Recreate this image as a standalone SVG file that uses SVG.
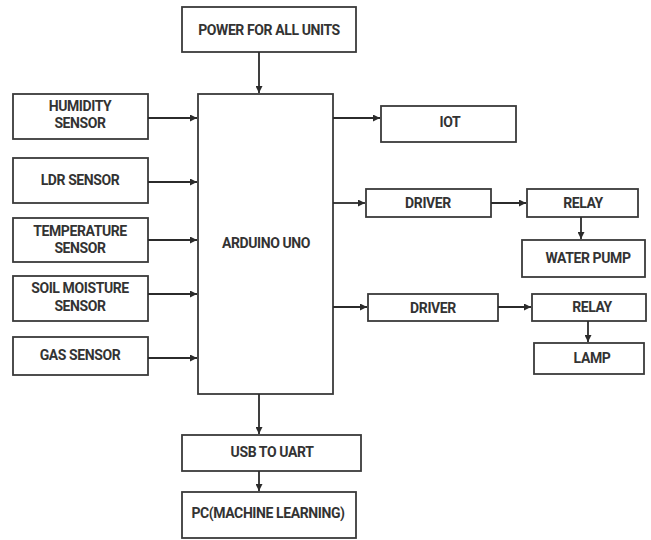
<svg xmlns="http://www.w3.org/2000/svg" width="651" height="540" viewBox="0 0 651 540">
<defs>
<marker id="ah" viewBox="0 0 10 10" refX="10" refY="5" markerWidth="7" markerHeight="7" markerUnits="userSpaceOnUse" orient="auto">
<path d="M0,0 L10,5 L0,10 z" fill="#2b2b2b"/>
</marker>
<style>
.b{fill:#fff;stroke:#3a3a3a;stroke-width:1.8}
.t{font-family:Roboto,"Liberation Sans",sans-serif;font-weight:700;font-size:14px;fill:#333;text-anchor:middle;dominant-baseline:central;letter-spacing:-0.4px}
.c{fill:none;stroke:#2b2b2b;stroke-width:1.8;marker-end:url(#ah)}
</style>
</defs>
<rect width="651" height="540" fill="#fff"/>
<g id="power"><rect class="b" x="182" y="7" width="174" height="45"/><text class="t" x="269" y="30">POWER FOR ALL UNITS</text></g>
<g id="humidity"><rect class="b" x="13" y="94" width="135" height="45"/><text class="t" x="80" y="106">HUMIDITY</text><text class="t" x="80" y="123">SENSOR</text></g>
<g id="ldr"><rect class="b" x="13" y="158" width="135" height="45"/><text class="t" x="80" y="180">LDR SENSOR</text></g>
<g id="temperature"><rect class="b" x="13" y="218" width="135" height="44"/><text class="t" x="80" y="231">TEMPERATURE</text><text class="t" x="80" y="248">SENSOR</text></g>
<g id="soil"><rect class="b" x="13" y="276" width="135" height="45"/><text class="t" x="80" y="288">SOIL MOISTURE</text><text class="t" x="80" y="306">SENSOR</text></g>
<g id="gas"><rect class="b" x="13" y="337" width="135" height="38"/><text class="t" x="80" y="355">GAS SENSOR</text></g>
<g id="arduino"><rect class="b" x="198" y="94" width="135" height="300"/><text class="t" x="266" y="243">ARDUINO UNO</text></g>
<g id="iot"><rect class="b" x="381" y="106" width="135" height="36"/><text class="t" x="450" y="122">IOT</text></g>
<g id="driver1"><rect class="b" x="366" y="189" width="125" height="28"/><text class="t" x="428" y="203">DRIVER</text></g>
<g id="relay1"><rect class="b" x="527" y="189" width="111" height="28"/><text class="t" x="583" y="203">RELAY</text></g>
<g id="waterpump"><rect class="b" x="522" y="240" width="123" height="37"/><text class="t" x="588" y="258">WATER PUMP</text></g>
<g id="driver2"><rect class="b" x="368" y="294" width="130" height="27"/><text class="t" x="433" y="308">DRIVER</text></g>
<g id="relay2"><rect class="b" x="532" y="294" width="114" height="27"/><text class="t" x="592" y="307">RELAY</text></g>
<g id="lamp"><rect class="b" x="534" y="343" width="110" height="31"/><text class="t" x="592" y="358">LAMP</text></g>
<g id="usb"><rect class="b" x="182" y="435" width="179" height="36"/><text class="t" x="272" y="452">USB TO UART</text></g>
<g id="pc"><rect class="b" x="182" y="492" width="174" height="46"/><text class="t" x="268" y="513">PC(MACHINE LEARNING)</text></g>
<g id="connectors">
<line class="c" x1="259" y1="52" x2="259" y2="93"/>
<line class="c" x1="148" y1="118" x2="197" y2="118"/>
<line class="c" x1="148" y1="182" x2="197" y2="182"/>
<line class="c" x1="148" y1="240" x2="197" y2="240"/>
<line class="c" x1="148" y1="294" x2="197" y2="294"/>
<line class="c" x1="148" y1="358" x2="197" y2="358"/>
<line class="c" x1="333" y1="118" x2="380" y2="118"/>
<line class="c" x1="333" y1="203" x2="365" y2="203"/>
<line class="c" x1="333" y1="307" x2="367" y2="307"/>
<line class="c" x1="491" y1="203" x2="526" y2="203"/>
<line class="c" x1="498" y1="307" x2="531" y2="307"/>
<line class="c" x1="581" y1="217" x2="581" y2="239"/>
<line class="c" x1="588" y1="321" x2="588" y2="342"/>
<line class="c" x1="259" y1="394" x2="259" y2="434"/>
<line class="c" x1="259" y1="471" x2="259" y2="491"/>
</g>
</svg>
